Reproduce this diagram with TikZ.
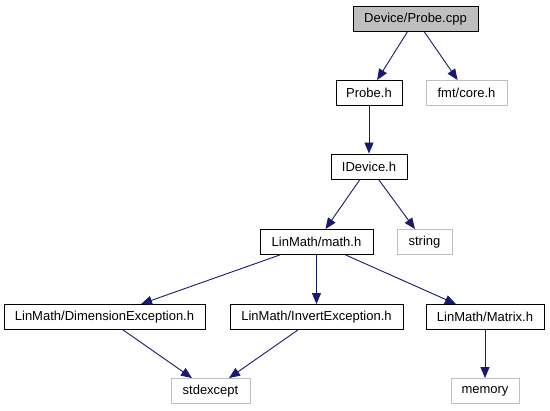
\documentclass[tikz,border=0pt]{standalone}
\usepackage{fontspec}
\setmainfont{Liberation Sans}
\usepackage{tikz}
\usetikzlibrary{arrows.meta}
\definecolor{edgeblue}{HTML}{191970}
\definecolor{extgray}{HTML}{BFBFBF}

\begin{document}
\begin{tikzpicture}[
    x=1pt, y=-1pt,
    file/.style={rectangle, draw=black, line width=0.9pt, minimum height=25pt, inner sep=0pt, font=\fontsize{13}{15}\selectfont},
    ext/.style={file, draw=extgray},
    arrow/.style={-{Triangle[length=11pt, width=9pt]}, edgeblue, line width=0.9pt}
]
    \useasboundingbox (0,0) rectangle (550,411);

    % Quelle
    \node[file, fill=extgray, minimum width=125pt] (probecpp) at (415.5,19) {Device/Probe.cpp};

    % erste Ebene
    \node[file, minimum width=66pt] (probeh) at (369,93) {Probe.h};
    \node[ext, minimum width=81pt] (fmtcore) at (466.5,93) {fmt/core.h};

    % Interface
    \node[file, minimum width=76pt] (idevice) at (369,166.5) {IDevice.h};

    % LinMath
    \node[file, minimum width=113pt] (mathh) at (316.5,242) {LinMath/math.h};
    \node[ext, minimum width=55pt] (string) at (424.5,242) {string};

    \node[file, minimum width=201pt] (dimexc) at (104.5,317) {LinMath/DimensionException.h};
    \node[file, minimum width=173pt] (invexc) at (316.5,317) {LinMath/InvertException.h};
    \node[file, minimum width=118pt] (matrixh) at (485,317) {LinMath/Matrix.h};

    % Standardbibliothek
    \node[ext, minimum width=79pt] (stdexcept) at (210.5,391) {stdexcept};
    \node[ext, minimum width=68pt] (memory) at (485,391) {memory};

    % Kanten
    \draw[arrow] (probecpp) -- (probeh);
    \draw[arrow] (probecpp) -- (fmtcore);
    \draw[arrow] (probeh) -- (idevice);
    \draw[arrow] (idevice) -- (mathh);
    \draw[arrow] (idevice) -- (string);
    \draw[arrow] (mathh) -- (dimexc);
    \draw[arrow] (mathh) -- (invexc);
    \draw[arrow] (mathh) -- (matrixh);
    \draw[arrow] (dimexc) -- (stdexcept);
    \draw[arrow] (invexc) -- (stdexcept);
    \draw[arrow] (matrixh) -- (memory);
\end{tikzpicture}
\end{document}
